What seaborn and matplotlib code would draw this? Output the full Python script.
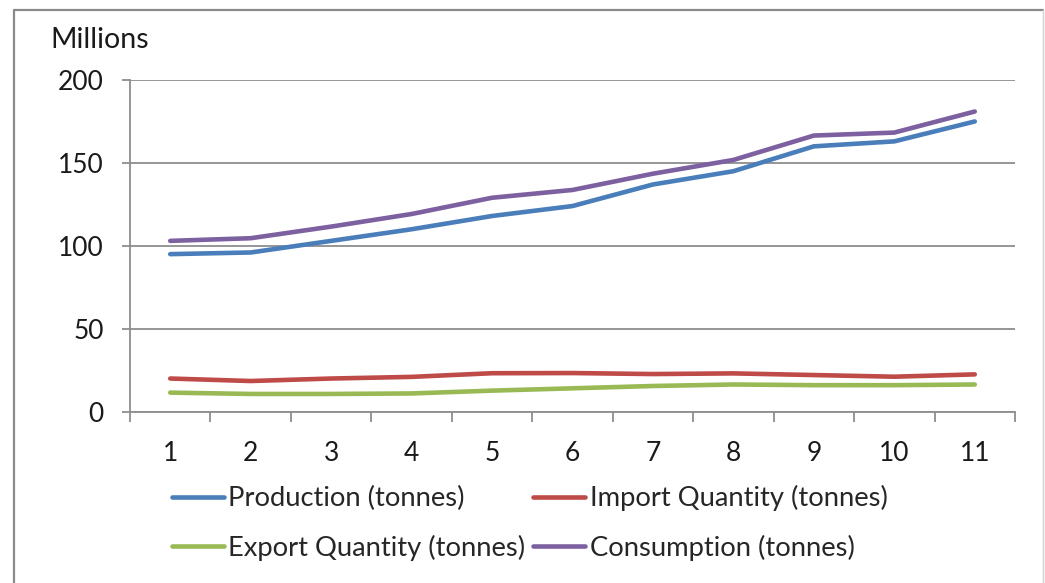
import matplotlib
matplotlib.use("Agg")
import matplotlib.pyplot as plt
from matplotlib.lines import Line2D
import numpy as np
import pandas as pd
import seaborn as sns

# Yearly series (millions of tonnes), periods 1..11
periods = list(range(1, 12))
production = [95, 96, 103, 110, 118, 124, 137, 145, 160, 163, 175]
imports = [20, 18.5, 20, 21, 23.2, 23.3, 22.7, 23.1, 22.1, 21.1, 22.5]
exports = [11.5, 10.7, 10.7, 11, 12.7, 14.1, 15.5, 16.4, 16, 16, 16.4]
consumption = [103, 104.6, 111.6, 119.2, 129, 133.7, 143.5, 151.8, 166.5, 168.3, 181]

series_names = ["Production (tonnes)", "Import Quantity (tonnes)",
                "Export Quantity (tonnes)", "Consumption (tonnes)"]
series_colors = ["#4A7EBB", "#BE4B48", "#98B954", "#7D60A0"]
y_ticks = [0, 50, 100, 150, 200]

df = pd.concat([
    pd.DataFrame({"period": periods, "value": vals, "series": name})
    for name, vals in zip(series_names, [production, imports, exports, consumption])
], ignore_index=True)

sns.set_style("white")
plt.rcParams["font.family"] = ["Lato", "DejaVu Sans"]

fig = plt.figure(figsize=(10.45, 5.83), dpi=100)
ax = fig.add_axes([130 / 1045, 1 - 411.7 / 583, (1015 - 130) / 1045, (411.7 - 80) / 583])

sns.lineplot(data=df, x="period", y="value", hue="series", hue_order=series_names,
             palette=series_colors, linewidth=3.3, ax=ax, legend=False,
             solid_capstyle="round")

grid_c = "#8E8E8E"
ax.set_xlim(0.5, 11.5)
ax.set_ylim(0, 200)
ax.set_yticks(y_ticks)
ax.set_yticklabels([str(v) for v in y_ticks])
ax.set_xticks(periods)
ax.set_xticklabels([str(p) for p in periods])
ax.set_xticks(np.arange(0.5, 12, 1.0), minor=True)
ax.set_xlabel("")
ax.set_ylabel("")

ax.yaxis.grid(True, color=grid_c, linewidth=1.3)
ax.set_axisbelow(True)
for side in ("top", "right"):
    ax.spines[side].set_visible(False)
for side in ("left", "bottom"):
    ax.spines[side].set_color(grid_c)
    ax.spines[side].set_linewidth(1.3)

ax.tick_params(axis="y", which="major", direction="out", length=6, width=1.3,
               color=grid_c, pad=13, labelsize=19, labelcolor="#1a1a1a", left=True)
ax.tick_params(axis="x", which="major", length=0, pad=21, labelsize=19,
               labelcolor="#1a1a1a")
ax.tick_params(axis="x", which="minor", direction="out", length=7, width=1.3,
               color=grid_c, bottom=True)

fig.text(50 / 1045, 1 - 40 / 583, "Millions", fontsize=20.5, va="center", ha="left",
         color="#1a1a1a")

# Legend laid out row-wise: Production / Import, then Export / Consumption
handles = [Line2D([0], [0], color=c, linewidth=3.3, solid_capstyle="round")
           for c in series_colors]
order = [0, 2, 1, 3]
fig.legend([handles[i] for i in order], [series_names[i] for i in order],
           ncol=2, loc="center left", bbox_to_anchor=(172 / 1045, 1 - 523 / 583),
           frameon=False, fontsize=19.7, handlelength=1.9, handletextpad=0.15,
           columnspacing=0.3, labelspacing=0.85, borderaxespad=0, borderpad=0)

# Chart frame
frame_c = "#8A8A8A"
fig.add_artist(Line2D([14 / 1045, 14 / 1045], [0, 1 - 10 / 583], transform=fig.transFigure,
                      color=frame_c, linewidth=1.6))
fig.add_artist(Line2D([14 / 1045, 1043 / 1045], [1 - 10 / 583, 1 - 10 / 583],
                      transform=fig.transFigure, color=frame_c, linewidth=1.6))
fig.add_artist(Line2D([1043 / 1045, 1043 / 1045], [0, 1 - 10 / 583], transform=fig.transFigure,
                      color="#D0D0D0", linewidth=1.0))

fig.savefig("out.png", dpi=100, facecolor="white")
